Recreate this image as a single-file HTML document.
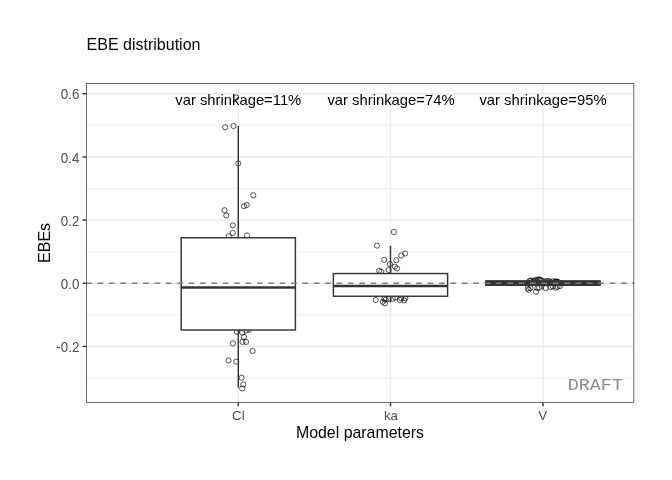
<!DOCTYPE html>
<html><head><meta charset="utf-8"><title>EBE distribution</title>
<style>html,body{margin:0;padding:0;background:#fff;}svg{display:block;}text{font-family:"Liberation Sans",Arial,sans-serif;}</style></head><body>
<svg width="672" height="480" viewBox="0 0 672 480">
<rect x="0" y="0" width="672" height="480" fill="#ffffff"/>
<g stroke="#ebebeb" stroke-width="0.7" fill="none">
<line x1="86.2" x2="634.2" y1="125.30" y2="125.30"/>
<line x1="86.2" x2="634.2" y1="188.50" y2="188.50"/>
<line x1="86.2" x2="634.2" y1="251.70" y2="251.70"/>
<line x1="86.2" x2="634.2" y1="314.90" y2="314.90"/>
<line x1="86.2" x2="634.2" y1="378.10" y2="378.10"/>
</g>
<g stroke="#ebebeb" stroke-width="1.42" fill="none">
<line x1="86.2" x2="634.2" y1="93.70" y2="93.70"/>
<line x1="86.2" x2="634.2" y1="156.90" y2="156.90"/>
<line x1="86.2" x2="634.2" y1="220.10" y2="220.10"/>
<line x1="86.2" x2="634.2" y1="283.30" y2="283.30"/>
<line x1="86.2" x2="634.2" y1="346.50" y2="346.50"/>
<line x1="238.3" x2="238.3" y1="83.2" y2="402.7"/>
<line x1="390.5" x2="390.5" y1="83.2" y2="402.7"/>
<line x1="542.95" x2="542.95" y1="83.2" y2="402.7"/>
</g>
<g fill="none" stroke="#000" stroke-opacity="0.7" stroke-width="0.95">
<circle cx="236.2" cy="97.5" r="2.6"/>
<circle cx="225.2" cy="127.3" r="2.6"/>
<circle cx="233.5" cy="126" r="2.6"/>
<circle cx="238.25" cy="163.5" r="2.6"/>
<circle cx="253.25" cy="195.25" r="2.6"/>
<circle cx="246.75" cy="205" r="2.6"/>
<circle cx="244" cy="206.25" r="2.6"/>
<circle cx="224.5" cy="210.25" r="2.6"/>
<circle cx="226.25" cy="215.5" r="2.6"/>
<circle cx="232.75" cy="225.5" r="2.6"/>
<circle cx="232.75" cy="233" r="2.6"/>
<circle cx="228.75" cy="236.25" r="2.6"/>
<circle cx="247" cy="235.5" r="2.6"/>
<circle cx="237" cy="331.9" r="2.6"/>
<circle cx="242.25" cy="332.5" r="2.6"/>
<circle cx="246" cy="330.6" r="2.6"/>
<circle cx="249.1" cy="329.7" r="2.6"/>
<circle cx="243.9" cy="336.9" r="2.6"/>
<circle cx="242.5" cy="341.9" r="2.6"/>
<circle cx="246" cy="341.9" r="2.6"/>
<circle cx="232.9" cy="343.4" r="2.6"/>
<circle cx="252.6" cy="351" r="2.6"/>
<circle cx="228.5" cy="360.4" r="2.6"/>
<circle cx="236.25" cy="361.6" r="2.6"/>
<circle cx="241.6" cy="377.75" r="2.6"/>
<circle cx="243.25" cy="384.4" r="2.6"/>
<circle cx="242.25" cy="388.5" r="2.6"/>
<circle cx="393.8" cy="232" r="2.6"/>
<circle cx="377" cy="245.6" r="2.6"/>
<circle cx="405.1" cy="253.5" r="2.6"/>
<circle cx="401.2" cy="255.5" r="2.6"/>
<circle cx="384.2" cy="259.85" r="2.6"/>
<circle cx="396.3" cy="260.2" r="2.6"/>
<circle cx="389.9" cy="264" r="2.6"/>
<circle cx="394.9" cy="266.7" r="2.6"/>
<circle cx="397" cy="268.5" r="2.6"/>
<circle cx="388.7" cy="270" r="2.6"/>
<circle cx="379.1" cy="270.8" r="2.6"/>
<circle cx="381.2" cy="271.7" r="2.6"/>
<circle cx="375.75" cy="300" r="2.6"/>
<circle cx="382.8" cy="301.8" r="2.6"/>
<circle cx="384.9" cy="303.3" r="2.6"/>
<circle cx="385.75" cy="299.6" r="2.6"/>
<circle cx="384.5" cy="298.75" r="2.6"/>
<circle cx="388.7" cy="298.75" r="2.6"/>
<circle cx="392.8" cy="298.75" r="2.6"/>
<circle cx="395.3" cy="297.5" r="2.6"/>
<circle cx="399.9" cy="300" r="2.6"/>
<circle cx="404.1" cy="300.4" r="2.6"/>
<circle cx="405.3" cy="298.3" r="2.6"/>
<circle cx="401.2" cy="298.3" r="2.6"/>
<circle cx="527.7" cy="288.4" r="2.6"/>
<circle cx="528.7" cy="289.8" r="2.6"/>
<circle cx="530.4" cy="288.1" r="2.6"/>
<circle cx="536.1" cy="291.8" r="2.6"/>
<circle cx="537.4" cy="288.1" r="2.6"/>
<circle cx="539.1" cy="287.6" r="2.6"/>
<circle cx="545.8" cy="288.1" r="2.6"/>
<circle cx="550.5" cy="287.1" r="2.6"/>
<circle cx="555.8" cy="287.75" r="2.6"/>
<circle cx="557.5" cy="286.7" r="2.6"/>
<circle cx="559.8" cy="286.1" r="2.6"/>
<circle cx="552.8" cy="286.4" r="2.6"/>
<circle cx="529.5" cy="281.0" r="2.6"/>
<circle cx="530.8" cy="280.6" r="2.6"/>
<circle cx="533" cy="280.7" r="2.6"/>
<circle cx="534.2" cy="281.3" r="2.6"/>
<circle cx="536.5" cy="279.8" r="2.6"/>
<circle cx="538.5" cy="279.5" r="2.6"/>
<circle cx="539.6" cy="279.9" r="2.6"/>
<circle cx="540.4" cy="279.7" r="2.6"/>
<circle cx="541.5" cy="280.6" r="2.6"/>
<circle cx="546.5" cy="281.0" r="2.6"/>
<circle cx="548.5" cy="281.1" r="2.6"/>
<circle cx="549.6" cy="281.5" r="2.6"/>
<circle cx="552.5" cy="281.4" r="2.6"/>
<circle cx="555" cy="281.5" r="2.6"/>
<circle cx="556.1" cy="281.8" r="2.6"/>
<circle cx="557" cy="281.6" r="2.6"/>
<circle cx="558.2" cy="282.0" r="2.6"/>
<circle cx="544.5" cy="281.6" r="2.6"/>
<circle cx="535.3" cy="280.6" r="2.6"/>
</g>
<g stroke="#333333" stroke-width="1.42" fill="none">
<line x1="238.3" x2="238.3" y1="126" y2="237.75"/>
<line x1="238.3" x2="238.3" y1="330.0" y2="387.75"/>
<rect x="181.20" y="237.75" width="114.2" height="92.25" fill="#ffffff"/>
<line x1="181.20" x2="295.40" y1="287.5" y2="287.5" stroke-width="2.7"/>
</g>
<g stroke="#333333" stroke-width="1.42" fill="none">
<line x1="390.5" x2="390.5" y1="245.75" y2="273.55"/>
<line x1="390.5" x2="390.5" y1="296.25" y2="302.5"/>
<rect x="333.40" y="273.55" width="114.2" height="22.70" fill="#ffffff"/>
<line x1="333.40" x2="447.60" y1="286.0" y2="286.0" stroke-width="2.7"/>
</g>
<g stroke="#333333" stroke-width="1.42" fill="none">
<line x1="542.95" x2="542.95" y1="278.5" y2="281.0"/>
<line x1="542.95" x2="542.95" y1="285.2" y2="289.4"/>
<rect x="485.85" y="281.0" width="114.2" height="4.20" fill="#ffffff"/>
<line x1="485.85" x2="600.05" y1="283.3" y2="283.3" stroke-width="2.7"/>
</g>
<rect x="485.2" y="280.45" width="115.3" height="5.35" fill="#333333"/>
<line x1="86.2" x2="634.2" y1="283.3" y2="283.3" stroke="#7f7f7f" stroke-width="1.42" stroke-dasharray="5.69 5.69"/>
<text x="238.3" y="104.8" font-size="14.8" text-anchor="middle" fill="#000">var shrinkage=11%</text>
<text x="391.0" y="104.8" font-size="14.8" text-anchor="middle" fill="#000">var shrinkage=74%</text>
<text x="543.0" y="104.8" font-size="14.8" text-anchor="middle" fill="#000">var shrinkage=95%</text>
<text transform="translate(622.9,389.8) scale(0.984,0.89)" font-size="18.67" text-anchor="end" fill="#8c8c8c" style="font-family:'Liberation Mono',monospace">DRAFT</text>
<rect x="86.56" y="83.56" width="547.28" height="318.78" fill="none" stroke="#333333" stroke-width="0.72"/>
<g stroke="#333333" stroke-width="1.42">
<line x1="82.53" x2="86.2" y1="93.70" y2="93.70"/>
<line x1="82.53" x2="86.2" y1="156.90" y2="156.90"/>
<line x1="82.53" x2="86.2" y1="220.10" y2="220.10"/>
<line x1="82.53" x2="86.2" y1="283.30" y2="283.30"/>
<line x1="82.53" x2="86.2" y1="346.50" y2="346.50"/>
<line x1="238.3" x2="238.3" y1="402.7" y2="406.37"/>
<line x1="390.5" x2="390.5" y1="402.7" y2="406.37"/>
<line x1="542.95" x2="542.95" y1="402.7" y2="406.37"/>
</g>
<g font-size="13.33" fill="#4d4d4d">
<text transform="translate(79.3,99.30) scale(1,1.07)" text-anchor="end">0.6</text>
<text transform="translate(79.3,162.50) scale(1,1.07)" text-anchor="end">0.4</text>
<text transform="translate(79.3,225.70) scale(1,1.07)" text-anchor="end">0.2</text>
<text transform="translate(79.3,288.90) scale(1,1.07)" text-anchor="end">0.0</text>
<text transform="translate(79.3,352.10) scale(1,1.07)" text-anchor="end">-0.2</text>
<text x="238.4" y="419.7" text-anchor="middle">Cl</text>
<text x="391.0" y="419.7" text-anchor="middle">ka</text>
<text x="542.7" y="419.7" text-anchor="middle">V</text>
</g>
<text x="360.0" y="437.8" font-size="15.9" text-anchor="middle" fill="#000">Model parameters</text>
<text transform="translate(50,242.9) rotate(-90)" font-size="16" text-anchor="middle" fill="#000">EBEs</text>
<text x="86.6" y="49.9" font-size="16" fill="#000">EBE distribution</text>
</svg></body></html>
